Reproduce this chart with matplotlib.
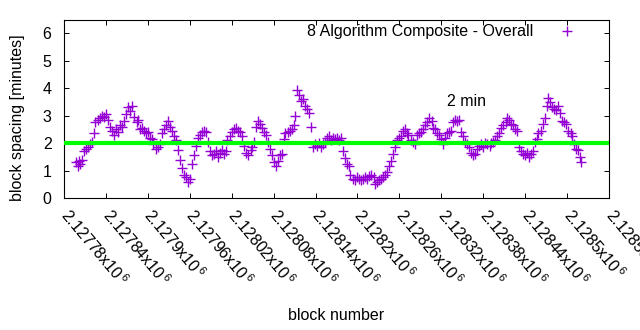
import matplotlib
matplotlib.use("Agg")
import matplotlib.pyplot as plt
from matplotlib.ticker import FixedLocator, FuncFormatter

plt.rcParams['font.family'] = ['Liberation Sans', 'DejaVu Sans']
plt.rcParams['mathtext.fontset'] = 'custom'
plt.rcParams['mathtext.rm'] = 'Liberation Sans'
plt.rcParams['mathtext.default'] = 'regular'

FS = 11.5

BLOCK_BASE = 2127700
block_offset = [97, 100, 101, 103, 106, 109, 112, 114, 117, 120, 123, 125, 128, 132, 135, 137, 140, 143, 146, 148,
                151, 154, 158, 160, 163, 166, 169, 172, 174, 177, 180, 184, 186, 189, 192, 195, 197, 200, 203, 206,
                208, 212, 215, 218, 220, 223, 226, 229, 231, 234, 238, 241, 243, 246, 249, 252, 254, 257, 260, 263,
                266, 269, 272, 275, 278, 280, 283, 286, 289, 292, 295, 298, 301, 303, 306, 309, 312, 314, 317, 321,
                324, 326, 329, 332, 335, 337, 340, 343, 347, 349, 352, 355, 358, 360, 363, 366, 369, 372, 375, 378,
                381, 383, 386, 389, 392, 395, 397, 401, 404, 407, 409, 410, 414, 417, 419, 422, 425, 428, 430, 433,
                436, 439, 442, 445, 448, 451, 454, 456, 459, 462, 465, 468, 471, 474, 477, 479, 482, 485, 488, 490,
                494, 497, 500, 502, 505, 508, 511, 513, 516, 519, 523, 525, 528, 531, 534, 536, 539, 542, 545, 548,
                551, 554, 557, 560, 562, 565, 568, 571, 573, 577, 580, 583, 585, 588, 591, 594, 596, 599, 603, 606,
                608, 611, 614, 617, 619, 622, 625, 628, 631, 634, 637, 640, 642, 645, 648, 651, 654, 657, 660, 663,
                665, 668, 671, 674, 677, 679, 683, 686, 689, 691, 694, 697, 700, 702, 705, 708, 712, 714, 717, 720,
                723, 725, 728, 731, 734, 737, 740, 743, 746, 748, 751, 754, 757, 759, 762, 766, 769, 771, 772, 775,
                779, 782, 784, 787, 790, 793, 795, 798, 801, 805, 807, 810, 813, 816, 818, 820]

spacing_min = [1.30, 1.15, 1.35, 1.25, 1.40, 1.70, 1.80, 1.85, 1.95, 2.05, 2.35, 2.75, 2.85, 2.90, 3.00, 2.95, 3.05, 2.85, 2.60, 2.45,
               2.30, 2.50, 2.40, 2.65, 2.60, 2.80, 3.05, 3.30, 3.15, 3.35, 2.95, 2.75, 2.85, 2.50, 2.55, 2.45, 2.35, 2.40, 2.20, 2.15,
               1.95, 1.80, 1.85, 1.95, 2.35, 2.50, 2.65, 2.80, 2.60, 2.45, 2.25, 2.10, 1.75, 1.40, 1.10, 0.85, 0.75, 0.60, 0.70, 1.25,
               1.55, 1.90, 2.20, 2.30, 2.40, 2.45, 2.40, 2.05, 1.70, 1.55, 1.60, 1.70, 1.50, 1.65, 1.75, 1.60, 1.70, 2.10, 2.25, 2.40,
               2.50, 2.55, 2.45, 2.40, 2.25, 1.90, 1.65, 1.55, 1.75, 1.85, 2.05, 2.60, 2.80, 2.70, 2.55, 2.40, 2.30, 2.05, 1.80, 1.55,
               1.30, 1.15, 1.35, 1.55, 1.60, 2.15, 2.35, 2.40, 2.45, 2.50, 2.65, 3.00, 3.95, 3.75, 3.55, 3.60, 3.35, 3.25, 3.10, 2.60,
               1.85, 1.95, 1.90, 2.00, 1.85, 1.95, 2.05, 2.20, 2.25, 2.10, 2.20, 2.15, 2.20, 2.10, 2.20, 1.70, 1.45, 1.25, 1.15, 0.85,
               0.70, 0.65, 0.75, 0.70, 0.65, 0.70, 0.75, 0.70, 0.80, 0.85, 0.75, 0.50, 0.60, 0.65, 0.70, 0.75, 0.85, 0.95, 1.15, 1.35,
               1.60, 1.85, 2.10, 2.20, 2.25, 2.45, 2.50, 2.35, 2.30, 2.10, 2.05, 1.95, 2.30, 2.35, 2.40, 2.50, 2.65, 2.75, 2.90, 2.80,
               2.55, 2.50, 2.35, 2.30, 2.15, 1.95, 2.20, 2.35, 2.40, 2.45, 2.75, 2.85, 2.80, 2.85, 2.40, 2.25, 2.05, 1.95, 1.85, 1.65,
               1.55, 1.60, 1.80, 1.90, 1.95, 1.85, 2.00, 1.95, 1.90, 2.00, 2.05, 2.10, 2.25, 2.35, 2.55, 2.65, 2.75, 2.90, 2.85, 2.70,
               2.65, 2.50, 2.45, 1.85, 1.70, 1.60, 1.55, 1.65, 1.50, 1.60, 1.70, 2.05, 2.15, 2.35, 2.45, 2.70, 2.90, 3.35, 3.65, 3.50,
               3.30, 3.25, 3.20, 3.35, 3.10, 2.80, 2.75, 2.70, 2.45, 2.35, 2.25, 1.95, 1.80, 1.75, 1.50, 1.30]

x_ticks = [2127780, 2127840, 2127900, 2127960, 2128020, 2128080, 2128140,
           2128200, 2128260, 2128320, 2128380, 2128440, 2128500, 2128560]
y_ticks = [0, 1, 2, 3, 4, 5, 6]
TARGET = 2.0
series_label = "8 Algorithm Composite - Overall"
target_label = "2 min"
target_label_pos = (2128328, 3.5)

blocks = [BLOCK_BASE + o for o in block_offset]

fig = plt.figure(figsize=(6.4, 3.3), dpi=100)
ax = fig.add_axes([64 / 640, 1 - 198 / 330, 545 / 640, 178.5 / 330])

ax.plot(blocks, spacing_min, linestyle='none', marker='+', markersize=7.5,
        markeredgewidth=1.0, color='#9400d3', label=series_label, zorder=2)
ax.axhline(TARGET, color='#00ff00', linewidth=3.0, zorder=3)
ax.text(target_label_pos[0], target_label_pos[1], target_label, fontsize=FS,
        ha='left', va='center', color='black')

ax.set_xlim(x_ticks[0], x_ticks[-1])
ax.set_ylim(0, 6.5)
ax.xaxis.set_major_locator(FixedLocator(x_ticks))
ax.yaxis.set_major_locator(FixedLocator(y_ticks))
ax.xaxis.set_major_formatter(FuncFormatter(lambda v, p: f"{v / 1e6:g}x10$^{{\\,6}}$"))

ax.tick_params(axis='both', which='major', direction='in', length=3.6, width=0.7,
               top=True, right=True, labelsize=FS, colors='black')
ax.tick_params(axis='x', pad=10)
ax.tick_params(axis='y', pad=9)
for lbl in ax.get_xticklabels():
    lbl.set_rotation(-50)
    lbl.set_ha('left')
    lbl.set_va('center')
    lbl.set_rotation_mode('anchor')

for s in ax.spines.values():
    s.set_linewidth(0.8)
    s.set_color('black')

ax.set_xlabel("block number", fontsize=FS, va='center')
ax.set_ylabel("block spacing [minutes]", fontsize=FS, va='center')
ax.xaxis.set_label_coords(0.5, (198 - 315) / 178.5)
ax.yaxis.set_label_coords((18 - 64) / 545, (198 - 117.5) / 178.5)

leg = ax.legend(loc='center right', bbox_to_anchor=(0.964, 0.930), borderaxespad=0,
                frameon=False, markerfirst=False, fontsize=FS, handlelength=2.0,
                handletextpad=1.1, numpoints=1)

fig.savefig("out.png", dpi=100)
